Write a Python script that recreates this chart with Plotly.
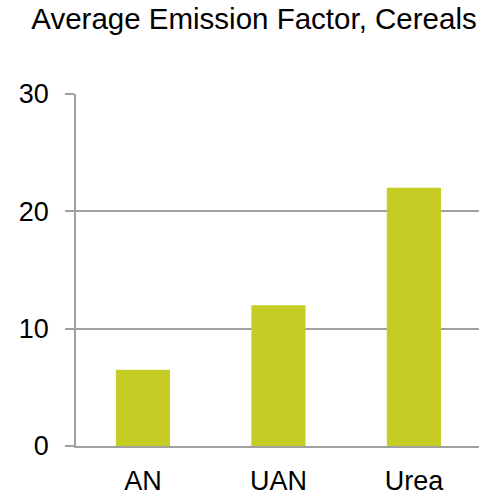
import plotly.graph_objects as go

categories = ["AN", "UAN", "Urea"]
values = [6.5, 12, 22]
y_ticks = [0, 10, 20, 30]
title_text = "Average Emission Factor, Cereals"

FONT = "Liberation Sans, Arial, sans-serif"
GRID = "#a0a0a0"
BAR = "#c5cd24"

fig = go.Figure(
    go.Bar(x=categories, y=values, marker=dict(color=BAR, line=dict(width=0)), width=0.4)
)

fig.update_layout(
    template="none",
    width=479,
    height=495,
    margin=dict(l=76, r=0, t=94, b=49, autoexpand=False),
    paper_bgcolor="white",
    plot_bgcolor="white",
    showlegend=False,
    font=dict(family=FONT, color="black", size=27),
    title=dict(
        text=title_text,
        font=dict(family=FONT, size=29.5, color="black"),
        x=254 / 479,
        xanchor="center",
        xref="container",
        y=1 - 8 / 495,
        yanchor="top",
        yref="container",
    ),
)

fig.update_xaxes(
    range=[-0.494, 2.48],
    automargin=False,
    showgrid=False,
    showline=True,
    linecolor=GRID,
    linewidth=2,
    ticks="",
    ticklabelstandoff=10,
    tickfont=dict(family=FONT, size=27, color="black"),
    zeroline=False,
)

fig.update_yaxes(
    range=[0, 30],
    automargin=False,
    tickvals=y_ticks,
    showgrid=True,
    gridcolor=GRID,
    gridwidth=2,
    showline=True,
    linecolor=GRID,
    linewidth=1.5,
    ticks="outside",
    ticklen=9,
    tickcolor=GRID,
    tickwidth=2,
    ticklabelstandoff=11,
    tickfont=dict(family=FONT, size=27, color="black"),
    zeroline=False,
)

fig.write_html(
    "out.html",
    config={"displayModeBar": False},
    post_script="document.body.style.margin='0';document.body.style.overflow='hidden';",
)
